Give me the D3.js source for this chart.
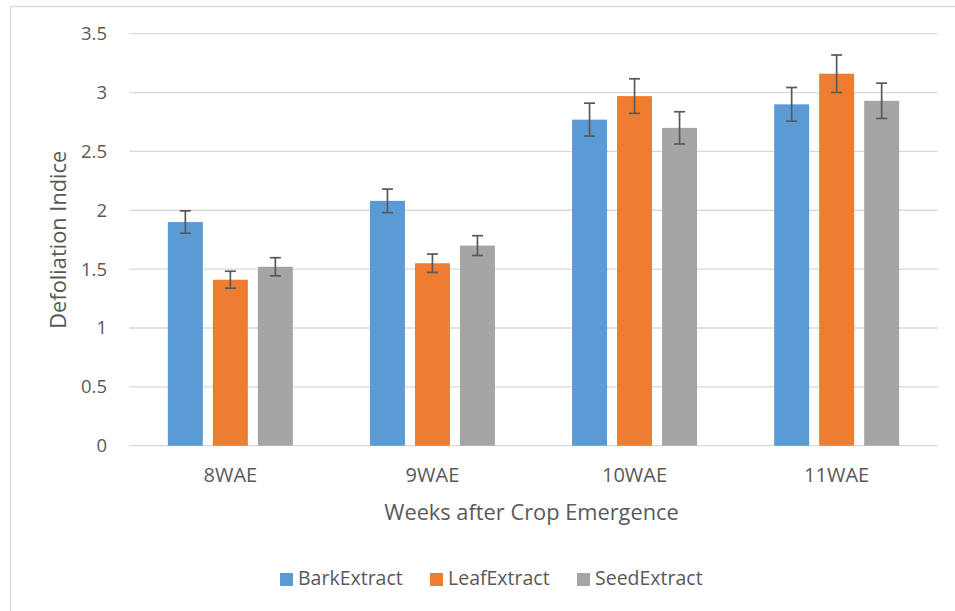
<!DOCTYPE html>
<html lang="en">
<head>
    <meta charset="UTF-8">
    <title>Defoliation Indice by Weeks after Crop Emergence</title>
    <script src="https://d3js.org/d3.v7.min.js"></script>
    <style>
        body { margin: 0; background: #fff; }
        text { font-family: "Open Sans", "DejaVu Sans", sans-serif; fill: #595959; }
        .tick-label { font-size: 18.5px; }
        .cat-label { font-size: 20px; }
        .axis-title { font-size: 21.8px; }
        .legend { font-size: 19.5px; }
    </style>
</head>
<body>
    <div id="chart"></div>

    <script>
        // Data
        const categories = ["8WAE", "9WAE", "10WAE", "11WAE"];
        const seriesNames = ["BarkExtract", "LeafExtract", "SeedExtract"];
        const barkValues = [1.90, 2.08, 2.77, 2.90];
        const leafValues = [1.41, 1.55, 2.97, 3.16];
        const seedValues = [1.52, 1.70, 2.70, 2.93];
        const barkErrors = [0.095, 0.10, 0.14, 0.143];
        const leafErrors = [0.072, 0.078, 0.147, 0.159];
        const seedErrors = [0.077, 0.084, 0.137, 0.15];
        const yTicks = [0, 0.5, 1, 1.5, 2, 2.5, 3, 3.5];

        const W = 955, H = 611;
        const plot = { left: 129.3, right: 937.7, top: 33.7, bottom: 445.7 };

        const svg = d3.select("#chart")
            .append("svg")
            .attr("width", W)
            .attr("height", H);

        // outer frame (only top and left edges are visible)
        svg.append("rect")
            .attr("x", 10.5)
            .attr("y", 6.5)
            .attr("width", W + 20)
            .attr("height", H + 20)
            .attr("fill", "none")
            .attr("stroke", "#d9d9d9")
            .attr("stroke-width", 1.3);

        const x0 = d3.scaleBand()
            .domain(categories)
            .range([plot.left, plot.right]);

        const groupW = 125;
        const x1 = d3.scaleBand()
            .domain(seriesNames)
            .range([(x0.bandwidth() - groupW) / 2, (x0.bandwidth() + groupW) / 2])
            .paddingInner(10 / 45);

        const y = d3.scaleLinear()
            .domain([0, 3.5])
            .range([plot.bottom, plot.top]);

        const color = d3.scaleOrdinal()
            .domain(seriesNames)
            .range(["#5b9bd5", "#ed7d31", "#a5a5a5"]);

        // gridlines
        svg.append("g")
            .selectAll("line")
            .data(yTicks)
            .enter()
            .append("line")
            .attr("x1", plot.left)
            .attr("x2", plot.right)
            .attr("y1", d => y(d))
            .attr("y2", d => y(d))
            .attr("stroke", "#d9d9d9")
            .attr("stroke-width", 1.3);

        // y tick labels
        svg.append("g")
            .selectAll("text")
            .data(yTicks)
            .enter()
            .append("text")
            .attr("class", "tick-label")
            .attr("x", 107)
            .attr("y", d => y(d))
            .attr("dy", "0.35em")
            .attr("text-anchor", "end")
            .text(d => d);

        const table = categories.map((c, i) => ({
            cat: c,
            vals: [
                { key: "BarkExtract", v: barkValues[i], e: barkErrors[i] },
                { key: "LeafExtract", v: leafValues[i], e: leafErrors[i] },
                { key: "SeedExtract", v: seedValues[i], e: seedErrors[i] }
            ]
        }));

        const groups = svg.append("g")
            .selectAll("g")
            .data(table)
            .enter()
            .append("g")
            .attr("transform", d => `translate(${x0(d.cat)},0)`);

        groups.selectAll("rect")
            .data(d => d.vals)
            .enter()
            .append("rect")
            .attr("x", d => x1(d.key))
            .attr("y", d => y(d.v))
            .attr("width", x1.bandwidth())
            .attr("height", d => y(0) - y(d.v))
            .attr("fill", d => color(d.key));

        // error bars
        const eb = groups.selectAll("g.err")
            .data(d => d.vals)
            .enter()
            .append("g")
            .attr("class", "err")
            .attr("stroke", "#595959")
            .attr("stroke-width", 1.7);

        const cx = d => x1(d.key) + x1.bandwidth() / 2;
        eb.append("line")
            .attr("x1", cx).attr("x2", cx)
            .attr("y1", d => y(d.v + d.e))
            .attr("y2", d => y(d.v - d.e));
        eb.append("line")
            .attr("x1", d => cx(d) - 5.5).attr("x2", d => cx(d) + 5.5)
            .attr("y1", d => y(d.v + d.e))
            .attr("y2", d => y(d.v + d.e));
        eb.append("line")
            .attr("x1", d => cx(d) - 5.5).attr("x2", d => cx(d) + 5.5)
            .attr("y1", d => y(d.v - d.e))
            .attr("y2", d => y(d.v - d.e));

        // x category labels
        svg.append("g")
            .selectAll("text")
            .data(categories)
            .enter()
            .append("text")
            .attr("class", "cat-label")
            .attr("x", d => x0(d) + x0.bandwidth() / 2)
            .attr("y", 482)
            .attr("text-anchor", "middle")
            .text(d => d);

        // axis titles
        svg.append("text")
            .attr("class", "axis-title")
            .attr("x", (plot.left + plot.right) / 2 - 2)
            .attr("y", 520)
            .attr("text-anchor", "middle")
            .text("Weeks after Crop Emergence");

        svg.append("text")
            .attr("class", "axis-title")
            .attr("transform", `translate(66, ${(plot.top + plot.bottom) / 2}) rotate(-90)`)
            .attr("text-anchor", "middle")
            .text("Defoliation Indice");

        // legend
        const legendX = [280, 430, 577];
        const legend = svg.append("g");
        seriesNames.forEach((s, i) => {
            legend.append("rect")
                .attr("x", legendX[i])
                .attr("y", 573)
                .attr("width", 13)
                .attr("height", 13)
                .attr("fill", color(s));
            legend.append("text")
                .attr("class", "legend")
                .attr("x", legendX[i] + 18)
                .attr("y", 585)
                .text(s);
        });
    </script>
</body>
</html>
